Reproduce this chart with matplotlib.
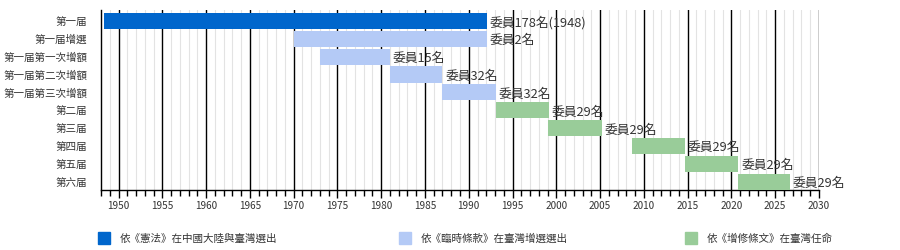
import matplotlib
matplotlib.use("Agg")
import matplotlib.pyplot as plt
from matplotlib.patches import Rectangle
from matplotlib.ticker import MultipleLocator

plt.rcParams['font.family'] = ['Noto Sans CJK TC', 'DejaVu Sans']

rows = ['第一届', '第一届增選', '第一届第一次增額', '第一届第二次增額', '第一届第三次增額',
        '第二届', '第三届', '第四届', '第五届', '第六届']
starts = [1948.3, 1970.0, 1973.0, 1981.0, 1987.0, 1993.1, 1999.1, 2008.6, 2014.7, 2020.8]
ends = [1992.1, 1992.1, 1981.0, 1987.0, 1993.1, 1999.2, 2005.2, 2014.7, 2020.8, 2026.7]
bar_labels = ['委員178名(1948)', '委員2名', '委員15名', '委員32名', '委員32名',
              '委員29名', '委員29名', '委員29名', '委員29名', '委員29名']
groups = [0, 1, 1, 1, 1, 2, 2, 2, 2, 2]
group_colors = ['#0066cc', '#b4caf6', '#99cc99']
legend_labels = ['依《憲法》在中國大陸與臺灣選出', '依《臨時條款》在臺灣增選選出', '依《增修條文》在臺灣任命']

fig = plt.figure(figsize=(9, 2.5), dpi=100)
ax = fig.add_axes([101/900, 1-190/250, (819-101)/900, 180/250])

for i in range(len(rows)):
    ax.barh(i, ends[i]-starts[i], left=starts[i], height=0.9,
            color=group_colors[groups[i]], zorder=3)
    ax.text(ends[i]+0.3, i+0.1, bar_labels[i], va='center', ha='left',
            fontsize=9.2, color='#333333', zorder=4)

ax.set_xlim(1948, 2030)
ax.set_ylim(9.45, -0.6)
ax.set_yticks(range(len(rows)))
ax.set_yticklabels(rows, fontsize=7.6, color='#333333')
ax.tick_params(axis='y', length=0, pad=10)

ax.xaxis.set_major_locator(MultipleLocator(5))
ax.xaxis.set_minor_locator(MultipleLocator(1))
ax.tick_params(axis='x', which='major', length=6, width=1, labelsize=7.2, color='black',
               labelcolor='#333333', pad=2)
ax.tick_params(axis='x', which='minor', length=4, width=1, color='black')
ax.set_xticks(range(1950, 2031, 5))
ax.grid(True, axis='x', which='minor', color='#e3e3e3', lw=0.8, zorder=1)
ax.grid(True, axis='x', which='major', color='black', lw=1, zorder=2)
ax.set_axisbelow(True)

for s in ['top', 'right']:
    ax.spines[s].set_visible(False)
for s in ['left', 'bottom']:
    ax.spines[s].set_color('black')
    ax.spines[s].set_linewidth(1)

legend_x = [98, 399, 685]
for k in range(3):
    fig.add_artist(Rectangle((legend_x[k]/900, 1-244/250), 12/900, 12/250,
                             transform=fig.transFigure, color=group_colors[k]))
    fig.text((legend_x[k]+22)/900, 1-239/250, legend_labels[k], fontsize=7.6,
             va='center', ha='left', color='#333333')

fig.savefig('out.png', dpi=100)
